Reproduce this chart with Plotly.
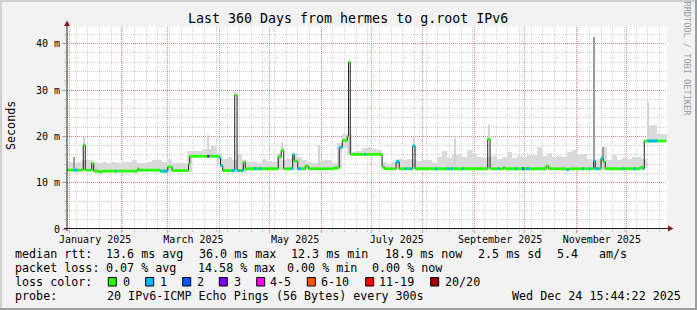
import bisect
import pandas as pd
import plotly.graph_objects as go

# ---------------- data (days since 2025-01-01 00:00, values in ms) ----------------
median_day = [-1.54, 8.2, 9.4, 13.3, 14.5, 18.0, 19.5, 40.9, 41.8, 54.3, 58.9, 61.5, 71.4, 72.1,
              89.8, 90.6, 91.9, 99.1, 100.5, 104.2, 105.4, 125.2, 127.0, 128.5, 133.9, 134.8,
              136.9, 141.4, 143.5, 158.8, 161.8, 163.6, 166.6, 167.4, 168.4, 187.5, 188.8, 195.9,
              197.8, 205.9, 207.3, 250.9, 252.3, 260.4, 261.3, 285.9, 287.5, 298.3, 299.5, 314.5,
              315.4, 318.9, 320.2, 321.4, 342.3, 343.9, 344.8, 357.9]
median_ms = [12.7, 18.1, 12.7, 14.2, 12.5, 12.3, 12.5, 13.0, 12.7, 12.5, 13.4, 12.6, 14.0, 15.7,
             15.4, 13.7, 12.6, 28.9, 12.6, 14.4, 13.0, 15.6, 17.0, 13.0, 16.0, 14.7,
             13.0, 13.6, 13.0, 13.2, 17.6, 19.1, 20.0, 36.0, 16.1, 13.4, 13.0, 14.5,
             13.0, 17.9, 13.0, 19.4, 13.0, 13.3, 13.0, 13.6, 13.0, 12.8, 13.0, 14.7,
             13.0, 15.3, 14.5, 13.0, 13.3, 13.0, 19.0, 19.0]

loss_start = [2.7, 27.3, 54.3, 55.9, 82.6, 89.8, 97.3, 100.5, 102.9, 110.8, 113.8, 132.7, 133.9,
              136.9, 161.8, 176.8, 195.9, 201.3, 203.8, 205.9, 219.4, 226.3, 228.9, 235.5, 256.9,
              267.4, 271.5, 273.9, 298.3, 307.5, 311.5, 314.5, 318.9, 331.9, 338.5, 343.9, 346.9]
loss_end = [4.5, 28.3, 55.5, 58.9, 83.8, 91.9, 99.1, 102.0, 104.2, 112.3, 115.3, 133.9, 134.8,
            138.9, 163.6, 177.9, 197.8, 202.5, 205.5, 207.3, 220.9, 227.8, 230.2, 236.8, 257.8,
            268.5, 272.8, 275.8, 299.5, 308.5, 312.4, 317.8, 320.2, 333.1, 339.9, 344.8, 352.9]
loss_level = [1, 1, 1, 1, 3, 1, 1, 1, 1, 1, 1, 1, 1,
              1, 1, 1, 1, 1, 1, 1, 1, 1, 1, 1, 1,
              1, 2, 1, 1, 1, 1, 1, 1, 1, 1, 1, 1]

smoke_day = list(range(0, 360, 3))
smoke_top = [14.5, 14.3, 14.5, 14.8, 14.9, 14.5, 14.2, 14.5, 14.3, 14.4,
             14.3, 14.4, 14.4, 15.0, 14.2, 14.2, 14.5, 14.8, 15.0, 14.5,
             15.1, 14.3, 14.3, 14.3, 16.8, 16.9, 16.8, 17.2, 17.3, 17.9,
             16.5, 15.2, 15.6, 15.0, 16.1, 15.0, 14.4, 14.4, 14.3, 15.1,
             14.6, 14.5, 16.5, 15.0, 15.2, 16.5, 15.5, 15.0, 14.4, 14.3,
             14.5, 14.9, 14.8, 14.2, 18.5, 20.5, 20.5, 16.7, 16.9, 17.5,
             17.8, 17.3, 17.0, 14.5, 14.1, 14.5, 15.2, 15.0, 15.2, 15.0,
             14.6, 14.8, 15.0, 14.3, 15.6, 16.8, 15.3, 16.0, 16.2, 15.5,
             17.1, 16.5, 15.6, 15.4, 15.5, 15.8, 15.2, 15.5, 16.7, 15.4,
             15.8, 15.6, 15.9, 16.0, 17.8, 15.8, 16.5, 15.5, 15.7, 15.6,
             16.6, 17.1, 15.9, 16.2, 15.2, 15.0, 15.1, 17.6, 15.0, 15.9,
             14.8, 15.3, 15.2, 15.5, 15.5, 15.2, 22.5, 22.5, 20.5, 20.4]

spike_day = [2.8, 8.7, 82.9, 85.8, 99.6, 127.5, 149.5, 206.7, 231.6, 251.7, 314.8, 320.1, 347.2]
spike_top = [15.6, 19.9, 20.3, 18.1, 29.6, 18.8, 18.1, 19.6, 19.6, 22.4, 41.4, 17.8, 27.5]
spike_dark = [True, False, False, False, False, False, False, False, False, False, True, True, False]

month_starts = ["2025-01-01", "2025-02-01", "2025-03-01", "2025-04-01", "2025-05-01", "2025-06-01",
                "2025-07-01", "2025-08-01", "2025-09-01", "2025-10-01", "2025-11-01", "2025-12-01"]
label_dates = ["2025-01-16 08:00", "2025-03-16 08:00", "2025-05-16 08:00",
               "2025-07-16 08:00", "2025-09-16 08:00", "2025-11-16 08:00"]
month_labels = ["January 2025", "March 2025", "May 2025", "July 2025", "September 2025", "November 2025"]

ytick_vals = [0, 10, 20, 30, 40]
ytick_text = ["0", "10 m", "20 m", "30 m", "40 m"]

loss_names = ["0", "1", "2", "3", "4-5", "6-10", "11-19", "20/20"]
loss_colors = ["#26ff00", "#00b8ff", "#0059ff", "#7e00ff", "#ff00ff", "#ff5500", "#ff0000", "#a10000"]

row_rtt = ["median rtt:", "13.6 ms avg", "36.0 ms max", "12.3 ms min", "18.9 ms now", "2.5 ms sd", "5.4", "am/s"]
row_loss = ["packet loss:", "0.07 % avg", "14.58 % max", "0.00 % min", "0.00 % now"]
probe_label = "probe:"
probe_text = "20 IPv6-ICMP Echo Pings (56 Bytes) every 300s"
stamp_text = "Wed Dec 24 15:44:22 2025"
title_text = "Last 360 Days from hermes to g.root IPv6"

# ---------------- geometry / styles ----------------
W, H = 697, 310
ML, MR, MT, MB = 67, 30, 27, 81
PW, PH = W - ML - MR, H - MT - MB
FONT = "DejaVu Sans Mono"
T0 = pd.Timestamp("2025-01-01")
X_RANGE = ["2024-12-30 11:00:00", "2025-12-25 11:00:00"]
DAY_MS = 86400000


def ax(px):
    return (px - ML) / PW


def ay(py):
    return (H - MB - py) / PH


def d2t(d):
    return T0 + pd.to_timedelta(d, unit="D")


def med_at(d):
    i = bisect.bisect_right(median_day, d) - 1
    i = max(0, min(i, len(median_ms) - 1))
    return median_ms[i]


fig = go.Figure()

# smoke
s_base, s_h = [], []
for c, top in zip(smoke_day, smoke_top):
    b = min(med_at(c - 1.5), med_at(c), med_at(c + 1.45)) - 0.2
    s_base.append(b)
    s_h.append(max(top - b, 0))
fig.add_trace(go.Bar(x=[d2t(d) for d in smoke_day], y=s_h, base=s_base, width=3 * DAY_MS,
                     marker=dict(color="#dadada", line=dict(width=0)), hoverinfo="skip"))

for dark in (False, True):
    xs = [d2t(d) for d, k in zip(spike_day, spike_dark) if k == dark]
    bs = [med_at(d) - 0.2 for d, k in zip(spike_day, spike_dark) if k == dark]
    hs = [t - (med_at(d) - 0.2) for d, t, k in zip(spike_day, spike_top, spike_dark) if k == dark]
    fig.add_trace(go.Bar(x=xs, y=hs, base=bs, width=(0.6 if dark else 0.8) * DAY_MS,
                         marker=dict(color="#9a9a9a" if dark else "#d4d4d4", line=dict(width=0)),
                         hoverinfo="skip"))

# median black step line
fig.add_trace(go.Scatter(x=[d2t(d) for d in median_day], y=median_ms, mode="lines",
                         line=dict(color="#202020", width=1, shape="hv"), hoverinfo="skip"))

# green (loss 0) horizontal bands
gx, gy = [], []
for i in range(len(median_day) - 1):
    gx += [d2t(median_day[i]), d2t(median_day[i + 1]), None]
    gy += [median_ms[i], median_ms[i], None]
fig.add_trace(go.Scatter(x=gx, y=gy, mode="lines", line=dict(color=loss_colors[0], width=2.8),
                         hoverinfo="skip"))

# loss colored bands
for lvl in sorted(set(loss_level)):
    lx, ly = [], []
    for a, b, l in zip(loss_start, loss_end, loss_level):
        if l != lvl:
            continue
        cuts = [a] + [d for d in median_day if a < d < b] + [b]
        for p, q in zip(cuts[:-1], cuts[1:]):
            v = med_at((p + q) / 2)
            lx += [d2t(p), d2t(q), None]
            ly += [v, v, None]
    fig.add_trace(go.Scatter(x=lx, y=ly, mode="lines", line=dict(color=loss_colors[lvl], width=2.8),
                             hoverinfo="skip"))

# dummy trace for label axis
fig.add_trace(go.Scatter(x=label_dates, y=[None] * len(label_dates), xaxis="x2", mode="lines",
                         hoverinfo="skip"))

GRID = "rgba(143,143,143,0.42)"
MGRID = "rgba(222,79,79,0.6)"

fig.update_layout(
    width=W, height=H,
    margin=dict(l=ML, r=MR, t=MT, b=MB, pad=0, autoexpand=False),
    paper_bgcolor="#f2f2f2", plot_bgcolor="#ffffff",
    showlegend=False, barmode="overlay", bargap=0,
    font=dict(family=FONT, color="#000000"),
    xaxis=dict(type="date", range=X_RANGE, tickmode="array", tickvals=month_starts,
               showticklabels=False, showgrid=True, gridcolor=MGRID, griddash="1px,1px", gridwidth=1,
               ticks="outside", ticklen=3, tickcolor=MGRID, zeroline=False, showline=False,
               minor=dict(dtick=7 * DAY_MS, tick0="2025-01-05", showgrid=True, gridcolor=GRID,
                          griddash="1px,1px", ticks="outside", ticklen=2, tickcolor=GRID),
               fixedrange=True),
    xaxis2=dict(type="date", range=X_RANGE, overlaying="x", anchor="y", side="bottom",
                tickmode="array", tickvals=label_dates, ticktext=month_labels, showgrid=False,
                ticks="", tickfont=dict(size=10, family=FONT), ticklabelstandoff=3,
                zeroline=False, showline=False, fixedrange=True),
    yaxis=dict(range=[0, PH / 4.633], tickmode="array", tickvals=ytick_vals, ticktext=ytick_text,
               showgrid=True, gridcolor=MGRID, griddash="1px,1px", gridwidth=1,
               ticks="outside", ticklen=4, tickcolor=MGRID, tickfont=dict(size=10, family=FONT),
               zeroline=False, showline=False,
               minor=dict(dtick=2, tick0=0, showgrid=True, gridcolor=GRID, griddash="1px,1px",
                          ticks="outside", ticklen=2, tickcolor=GRID),
               fixedrange=True),
)

ann = []


def text(s, px, py, size=11.7, xanchor="left", angle=0, color="#000000"):
    ann.append(dict(text=s, x=ax(px), y=ay(py), xref="paper", yref="paper", showarrow=False,
                    xanchor=xanchor, yanchor="middle", textangle=angle, borderpad=0, borderwidth=0,
                    font=dict(family=FONT, size=size, color=color)))


text(title_text, 348, 19, size=13.3, xanchor="center")
text("Seconds", 11, 126, angle=-90, xanchor="center")
text("RRDTOOL / TOBI OETIKER", 687, 58.5, size=8.6, angle=90, xanchor="center", color="#9c9c9c")

rtt_x = [16, 107, 199.5, 292, 385.5, 478.5, 557.5, 599.5]
for s, x in zip(row_rtt, rtt_x):
    text(s, x - 0.6, 254)
loss_x = [16, 107, 198.5, 288, 372.5]
for s, x in zip(row_loss, loss_x):
    text(s, x - 0.6, 268.3)
text("loss color:", 15.4, 282)
box_x = [108.3, 145.7, 182.7, 219.3, 256.7, 307.3, 365.7, 430.7]
lab_x = [123.3, 160.7, 197.3, 234.3, 270.7, 321.7, 380, 445.3]
shapes = []
for name, col, bx, lx in zip(loss_names, loss_colors, box_x, lab_x):
    text(name, lx - 0.6, 282)
    shapes.append(dict(type="rect", xref="paper", yref="paper", x0=ax(bx), x1=ax(bx + 8),
                       y0=ay(286), y1=ay(277.5), fillcolor=col, line=dict(color="#000000", width=1)))
text(probe_label, 15.4, 296)
text(probe_text, 106.7, 296)
text(stamp_text, 681, 296, xanchor="right")


def line(x0, y0, x1, y1, color, width):
    shapes.append(dict(type="line", xref="paper", yref="paper", x0=ax(x0), y0=ay(y0), x1=ax(x1),
                       y1=ay(y1), line=dict(color=color, width=width)))


def path(pts, color):
    d = "M " + " L ".join(f"{ax(a)},{ay(b)}" for a, b in pts) + " Z"
    shapes.append(dict(type="path", xref="paper", yref="paper", path=d, fillcolor=color,
                       line=dict(color=color, width=0)))


# frame shading
line(0, 1, W, 1, "#cfcfcf", 2)
line(1, 0, 1, H, "#cfcfcf", 2)
line(0, H - 1, W, H - 1, "#9e9e9e", 2)
line(W - 1, 0, W - 1, H, "#9e9e9e", 2)
# axes + arrows
line(64, 228.5, 669, 228.5, "#1f1f1f", 1)
line(67, 231, 67, 25, "#1f1f1f", 1)
path([(668, 225.5), (673.5, 228.5), (668, 231.5)], "#7f1f1f")
path([(64, 26), (67, 20.5), (70, 26)], "#7f1f1f")

fig.update_layout(annotations=ann, shapes=shapes)
fig.write_html("out.html")
